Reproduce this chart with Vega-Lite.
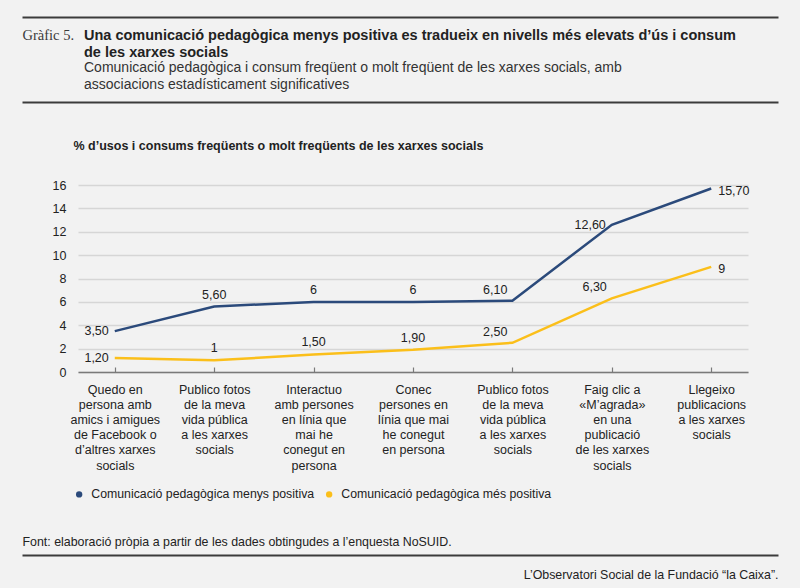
{
  "$schema": "https://vega.github.io/schema/vega-lite/v6.json",
  "width": 670,
  "height": 540,
  "autosize": {"type": "none"},
  "padding": {"left": 78, "top": 16, "right": 52, "bottom": 32},
  "background": "#f2f2f2",
  "title": {
    "text": ["Una comunicació pedagògica menys positiva es tradueix en nivells més elevats d’ús i consum", "de les xarxes socials"],
    "subtitle": ["Comunicació pedagògica i consum freqüent o molt freqüent de les xarxes socials, amb", "associacions estadísticament significatives"],
    "anchor": "start",
    "frame": "group",
    "dx": 6,
    "offset": -77,
    "font": "Liberation Sans",
    "fontSize": 14.5,
    "fontWeight": "bold",
    "color": "#222222",
    "lineHeight": 17,
    "subtitleFont": "Liberation Sans",
    "subtitleFontSize": 14,
    "subtitleColor": "#333333",
    "subtitleLineHeight": 17,
    "subtitlePadding": 1
  },
  "data": {
    "values": [
      {"ordre": 1, "activitat": "Quedo en\npersona amb\namics i amigues\nde Facebook o\nd’altres xarxes\nsocials", "serie": "Comunicació pedagògica menys positiva", "percentatge": 3.5},
      {"ordre": 2, "activitat": "Publico fotos\nde la meva\nvida pública\na les xarxes\nsocials", "serie": "Comunicació pedagògica menys positiva", "percentatge": 5.6},
      {"ordre": 3, "activitat": "Interactuo\namb persones\nen línia que\nmai he\nconegut en\npersona", "serie": "Comunicació pedagògica menys positiva", "percentatge": 6},
      {"ordre": 4, "activitat": "Conec\npersones en\nlínia que mai\nhe conegut\nen persona", "serie": "Comunicació pedagògica menys positiva", "percentatge": 6},
      {"ordre": 5, "activitat": "Publico fotos\nde la meva\nvida pública\na les xarxes\nsocials ", "serie": "Comunicació pedagògica menys positiva", "percentatge": 6.1},
      {"ordre": 6, "activitat": "Faig clic a\n«M’agrada»\nen una\npublicació\nde les xarxes\nsocials", "serie": "Comunicació pedagògica menys positiva", "percentatge": 12.6},
      {"ordre": 7, "activitat": "Llegeixo\npublicacions\na les xarxes\nsocials", "serie": "Comunicació pedagògica menys positiva", "percentatge": 15.7},
      {"ordre": 1, "activitat": "Quedo en\npersona amb\namics i amigues\nde Facebook o\nd’altres xarxes\nsocials", "serie": "Comunicació pedagògica més positiva", "percentatge": 1.2},
      {"ordre": 2, "activitat": "Publico fotos\nde la meva\nvida pública\na les xarxes\nsocials", "serie": "Comunicació pedagògica més positiva", "percentatge": 1},
      {"ordre": 3, "activitat": "Interactuo\namb persones\nen línia que\nmai he\nconegut en\npersona", "serie": "Comunicació pedagògica més positiva", "percentatge": 1.5},
      {"ordre": 4, "activitat": "Conec\npersones en\nlínia que mai\nhe conegut\nen persona", "serie": "Comunicació pedagògica més positiva", "percentatge": 1.9},
      {"ordre": 5, "activitat": "Publico fotos\nde la meva\nvida pública\na les xarxes\nsocials ", "serie": "Comunicació pedagògica més positiva", "percentatge": 2.5},
      {"ordre": 6, "activitat": "Faig clic a\n«M’agrada»\nen una\npublicació\nde les xarxes\nsocials", "serie": "Comunicació pedagògica més positiva", "percentatge": 6.3},
      {"ordre": 7, "activitat": "Llegeixo\npublicacions\na les xarxes\nsocials", "serie": "Comunicació pedagògica més positiva", "percentatge": 9}
    ]
  },
  "layer": [
    {
      "layer": [
        {
          "mark": {"type": "line", "strokeWidth": 2.5},
          "encoding": {
            "x": {
              "field": "activitat",
              "type": "nominal",
              "sort": null,
              "scale": {"type": "point", "padding": 0.37},
              "axis": {
                "orient": "bottom",
                "offset": -184,
                "title": "Font: elaboració pròpia a partir de les dades obtingudes a l’enquesta NoSUID.",
                "titleX": -56,
                "titleY": 169,
                "titleAlign": "left",
                "titleBaseline": "middle",
                "titleFontSize": 12.4,
                "titleFontWeight": "normal",
                "titleColor": "#222222",
                "labelExpr": "split(datum.value, '\\n')",
                "labelAngle": 0,
                "labelFontSize": 12.5,
                "labelLineHeight": 15.2,
                "labelColor": "#222222",
                "labelPadding": 16,
                "labelOverlap": false,
                "labelLimit": 200,
                "domainColor": "#7a7a7a",
                "domainWidth": 1.5,
                "tickColor": "#7a7a7a",
                "tickSize": -5,
                "tickWidth": 1.2,
                "grid": false
              }
            },
            "y": {
              "field": "percentatge",
              "type": "quantitative",
              "scale": {"domain": [-15.74, 30.46], "nice": false, "zero": false},
              "axis": {
                "orient": "left",
                "values": [0, 2, 4, 6, 8, 10, 12, 14, 16],
                "title": "% d’usos i consums freqüents o molt freqüents de les xarxes socials",
                "titleAngle": 0,
                "titleX": -5,
                "titleY": 129,
                "titleAlign": "left",
                "titleBaseline": "middle",
                "titleFont": "Liberation Sans",
                "titleFontSize": 12.5,
                "titleFontWeight": "bold",
                "titleColor": "#222222",
                "domain": false,
                "ticks": false,
                "labelPadding": 12,
                "labelFontSize": 12.5,
                "labelColor": "#222222",
                "gridColor": "#d6d6d6",
                "gridWidth": 1.5
              }
            },
            "color": {
              "field": "serie",
              "type": "nominal",
              "scale": {
                "domain": ["Comunicació pedagògica menys positiva", "Comunicació pedagògica més positiva"],
                "range": ["#2b4a7b", "#fbbf1a"]
              },
              "legend": {
                "orient": "none",
                "legendX": -5,
                "legendY": 472,
                "direction": "horizontal",
                "title": null,
                "symbolType": "circle",
                "symbolSize": 40,
                "symbolStrokeWidth": 0,
                "labelFontSize": 12.3,
                "labelColor": "#222222",
                "labelOffset": 6,
                "labelLimit": 400,
                "columnPadding": 8,
                "encode": {"symbols": {"update": {"fill": {"scale": "color", "field": "value"}, "opacity": {"value": 1}}}}
              }
            }
          }
        },
        {
          "transform": [{"filter": "datum.ordre == 1 || (datum.ordre == 6 && datum.serie == 'Comunicació pedagògica menys positiva')"}],
          "mark": {"type": "text", "align": "right", "baseline": "middle", "dx": -6, "fontSize": 12.5, "color": "#222222"},
          "encoding": {
            "x": {"field": "activitat", "type": "nominal", "sort": null},
            "y": {"field": "percentatge", "type": "quantitative"},
            "text": {
              "condition": {"test": "datum.percentatge % 1 === 0", "field": "percentatge", "type": "quantitative", "format": "d"},
              "field": "percentatge", "type": "quantitative", "format": ".2f"
            }
          }
        },
        {
          "transform": [{"filter": "datum.ordre >= 2 && datum.ordre <= 4"}],
          "mark": {"type": "text", "align": "center", "baseline": "middle", "dy": -12, "fontSize": 12.5, "color": "#222222"},
          "encoding": {
            "x": {"field": "activitat", "type": "nominal", "sort": null},
            "y": {"field": "percentatge", "type": "quantitative"},
            "text": {
              "condition": {"test": "datum.percentatge % 1 === 0", "field": "percentatge", "type": "quantitative", "format": "d"},
              "field": "percentatge", "type": "quantitative", "format": ".2f"
            }
          }
        },
        {
          "transform": [{"filter": "datum.ordre == 5 || (datum.ordre == 6 && datum.serie == 'Comunicació pedagògica més positiva')"}],
          "mark": {"type": "text", "align": "right", "baseline": "middle", "dx": -5, "dy": -11, "fontSize": 12.5, "color": "#222222"},
          "encoding": {
            "x": {"field": "activitat", "type": "nominal", "sort": null},
            "y": {"field": "percentatge", "type": "quantitative"},
            "text": {
              "condition": {"test": "datum.percentatge % 1 === 0", "field": "percentatge", "type": "quantitative", "format": "d"},
              "field": "percentatge", "type": "quantitative", "format": ".2f"
            }
          }
        }
      ]
    },
    {
      "transform": [{"filter": "datum.ordre == 7"}],
      "mark": {"type": "text", "align": "left", "baseline": "middle", "dx": 7, "dy": 2, "fontSize": 12.5, "color": "#222222"},
      "encoding": {
        "x": {
          "field": "activitat",
          "type": "nominal",
          "sort": null,
          "axis": {
            "orient": "top",
            "title": "Gràfic 5.",
            "titleX": -56,
            "titleY": 19,
            "titleAlign": "left",
            "titleBaseline": "middle",
            "titleFont": "Liberation Serif",
            "titleFontSize": 14.5,
            "titleFontWeight": "normal",
            "titleColor": "#3a3a3a",
            "domain": false,
            "ticks": false,
            "labels": false,
            "grid": false
          }
        },
        "y": {
          "field": "percentatge",
          "type": "quantitative",
          "axis": {
            "orient": "right",
            "values": [30.374, 23.102, -15.658],
            "offset": -726,
            "tickSize": 756,
            "tickWidth": 2,
            "tickColor": "#3c3c3c",
            "domain": false,
            "labels": false,
            "grid": false,
            "title": "L’Observatori Social de la Fundació “la Caixa”.",
            "titleAngle": 0,
            "titleX": 756,
            "titleY": 558,
            "titleAlign": "right",
            "titleBaseline": "middle",
            "titleFontSize": 12.4,
            "titleFontWeight": "normal",
            "titleColor": "#222222"
          }
        },
        "text": {
          "condition": {"test": "datum.percentatge % 1 === 0", "field": "percentatge", "type": "quantitative", "format": "d"},
          "field": "percentatge", "type": "quantitative", "format": ".2f"
        }
      }
    }
  ],
  "resolve": {"axis": {"x": "independent", "y": "independent"}},
  "config": {
    "font": "Liberation Sans",
    "view": {"stroke": null},
    "locale": {"number": {"decimal": ",", "thousands": ".", "grouping": [3], "currency": ["", " €"]}}
  }
}
